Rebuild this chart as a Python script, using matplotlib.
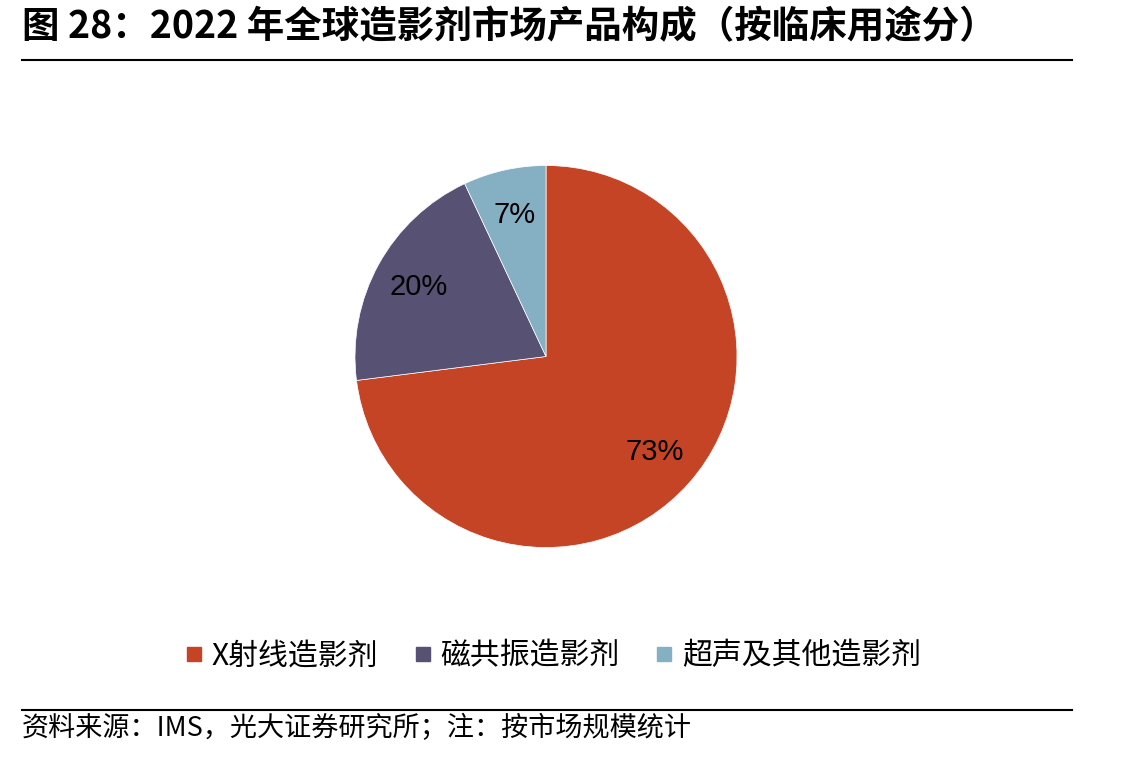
import numpy as np
import matplotlib
matplotlib.use("Agg")
import matplotlib.pyplot as plt
from matplotlib.lines import Line2D

plt.rcParams['font.family'] = ['Noto Sans CJK SC', 'DejaVu Sans']

# Data
categories = ["X射线造影剂", "磁共振造影剂", "超声及其他造影剂"]
values = [73, 20, 7]
colors = ["#C54426", "#575173", "#85AFC2"]
title = "图 28：2022 年全球造影剂市场产品构成（按临床用途分）"
source = "资料来源：IMS，光大证券研究所；注：按市场规模统计"

W, H = 1143, 757
fig = plt.figure(figsize=(W / 100, H / 100), dpi=100)

# pie axes: center (546, 356.5), radius 191 px
cx, cy, r = 546, 356.5, 191
ax = fig.add_axes([(cx - r) / W, 1 - (cy + r) / H, 2 * r / W, 2 * r / H])
ax.pie(values, colors=colors, startangle=90, counterclock=False,
       autopct=lambda p: f"{p:.0f}%", pctdistance=0.76,
       textprops=dict(fontsize=21, family=["Liberation Sans", "DejaVu Sans"],
                      color="black"),
       wedgeprops=dict(linewidth=0.5, edgecolor="white"))
ax.set_xlim(-1, 1)
ax.set_ylim(-1, 1)
ax.set_aspect("equal")
ax.axis("off")

# title and rules
fig.text(22 / W, 1 - 27 / H, title, fontsize=27, fontweight="bold",
         ha="left", va="center")
fig.add_artist(Line2D([22 / W, 1072 / W], [1 - 60 / H, 1 - 60 / H],
                      color="black", linewidth=1.5))
fig.add_artist(Line2D([22 / W, 1072 / W], [1 - 710 / H, 1 - 710 / H],
                      color="black", linewidth=1.5))

# legend
handles = [Line2D([0], [0], marker="s", linestyle="none", markersize=10,
                  markerfacecolor=c, markeredgecolor=c) for c in colors]
fig.legend(handles, categories, loc="center", bbox_to_anchor=(553 / W, 1 - 656 / H),
           ncol=3, frameon=False, fontsize=21.5, handlelength=0.6,
           handletextpad=0.3, columnspacing=1.18)

# source
fig.text(22 / W, 1 - 728 / H, source, fontsize=19.5, ha="left", va="center")

fig.savefig("out.png", dpi=100)
